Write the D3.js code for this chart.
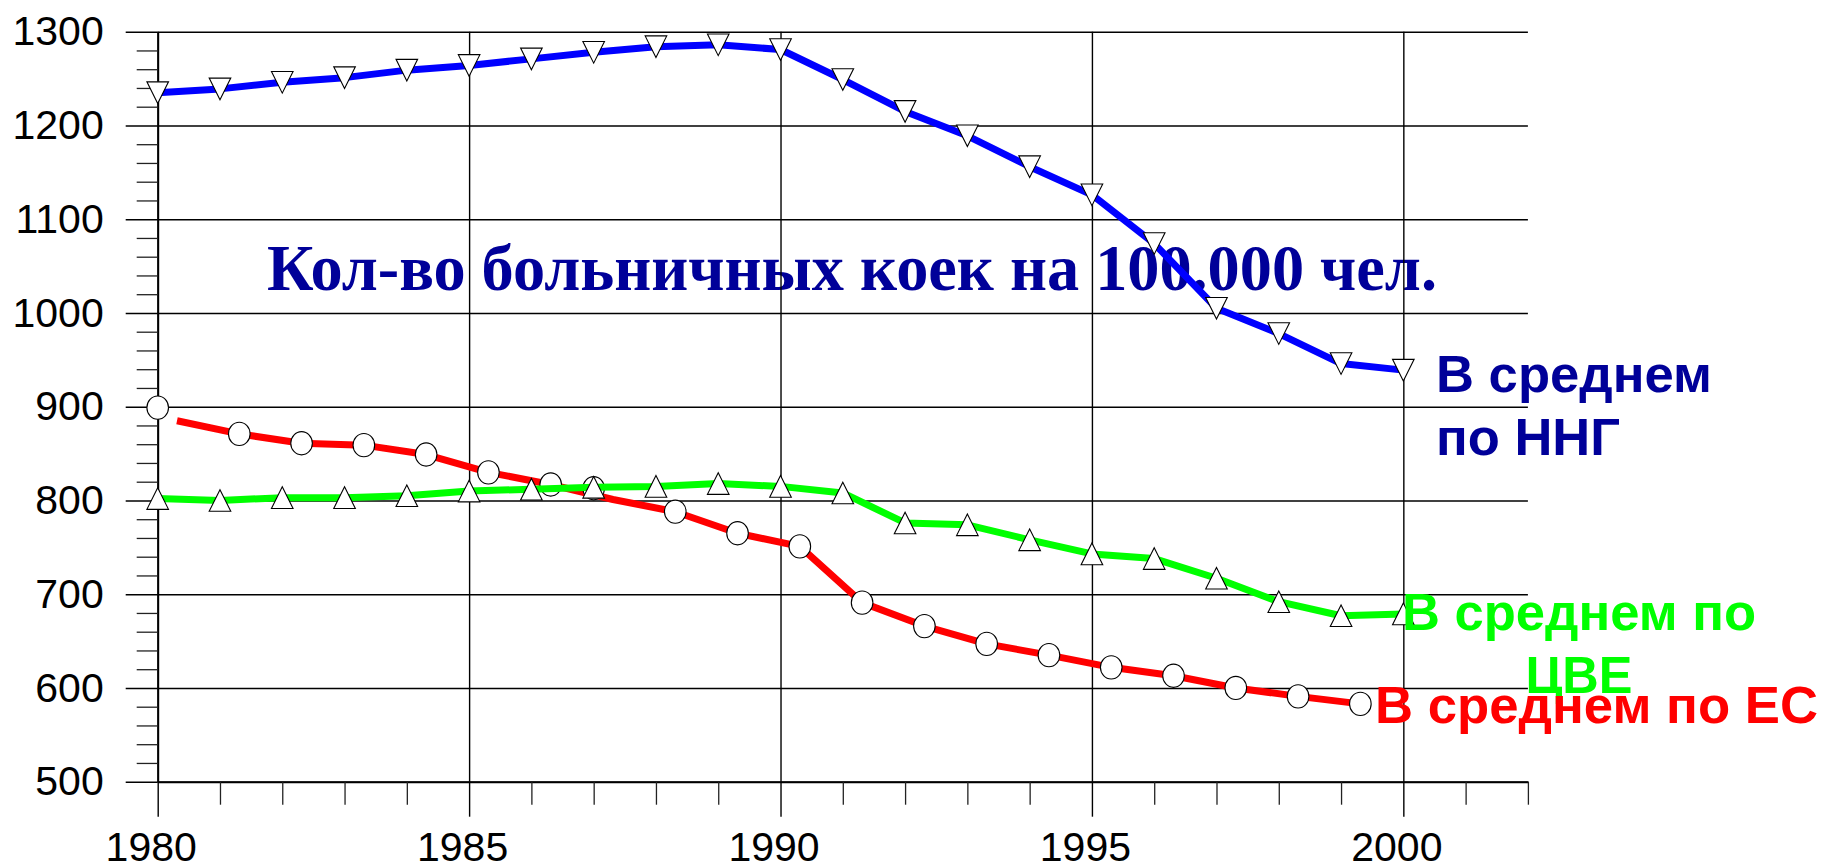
<!DOCTYPE html>
<html><head><meta charset="utf-8">
<script src="https://cdn.jsdelivr.net/npm/d3@7"></script>
<style>body{margin:0;background:#fff;} svg{display:block}</style>
</head><body>
<svg id="chart" width="1825" height="866"></svg>
<script>
// ---- data ----
const years = [1980,1981,1982,1983,1984,1985,1986,1987,1988,1989,1990,1991,1992,1993,1994,1995,1996,1997,1998,1999,2000];
const nngValues = [1235,1239,1246,1251,1259,1264,1271,1278,1284,1286,1281,1249,1215,1189,1156,1126,1074,1005,978,946,939];
const cveValues = [802,800,803,803,805,810,812,814,815,818,815,808,776,774,758,743,738,717,692,677,679];
const euLineYears = [1980.31,1981.31,1982.31,1983.31,1984.31,1985.31,1986.31,1987.31,1988.31,1989.31,1990.31,1991.31,1992.31,1993.31,1994.31,1995.31,1996.31,1997.31,1998.31,1999.31];
const euLineValues = [885,871,861,859,849,830,817,801,788,765,751,691,666,647,635,622,613,600,591,583];
const euMarkerYears = [1980,1981.31,1982.31,1983.31,1984.31,1985.31,1986.31,1987,1988.31,1989.31,1990.31,1991.31,1992.31,1993.31,1994.31,1995.31,1996.31,1997.31,1998.31,1999.31];
const euMarkerValues = [899,871,861,859,849,830,817,813,788,765,751,691,666,647,635,622,613,600,591,583];
const yMajorTicks = [500,600,700,800,900,1000,1100,1200,1300];
const yMinorTicks = [520,540,560,580,620,640,660,680,720,740,760,780,820,840,860,880,920,940,960,980,1020,1040,1060,1080,1120,1140,1160,1180,1220,1240,1260,1280];
const xMajorTicks = [1980,1985,1990,1995,2000];
const xMinorTicks = [1981,1982,1983,1984,1986,1987,1988,1989,1991,1992,1993,1994,1996,1997,1998,1999,2001,2002];
const title = "Кол-во больничных коек на 100.000 чел.";
const labelNNG = ["В среднем", "по ННГ"];
const labelCVE = ["В среднем по", "ЦВЕ"];
const labelEU = "В среднем по ЕС";

// ---- layout ----
const L = 157.7, R = 1527.9, T = 31.7, B = 781.7;
const svg = d3.select("#chart");
const x = d3.scaleLinear().domain([1980, 2002]).range([L, R]);
const y = d3.scaleLinear().domain([500, 1300]).range([B, T]);
const sans = "'Liberation Sans', Arial, sans-serif";

// title (under grid)
svg.append("text")
  .attr("x", 267).attr("y", 290)
  .attr("font-family", "'Liberation Serif', 'Times New Roman', serif")
  .attr("font-weight", "bold").attr("font-size", 65)
  .attr("textLength", 1170).attr("lengthAdjust", "spacingAndGlyphs")
  .attr("fill", "#000099")
  .text(title);

// horizontal grid
const gGrid = svg.append("g").attr("transform", `translate(${L},0)`)
  .call(d3.axisLeft(y).tickValues(yMajorTicks).tickSize(-(R - L)).tickFormat(""));
gGrid.select(".domain").remove();
gGrid.selectAll("line").attr("stroke", "#000").attr("stroke-width", 1.4);

// vertical grid
const gVGrid = svg.append("g").attr("transform", `translate(0,${B})`)
  .call(d3.axisBottom(x).tickValues(xMajorTicks).tickSize(-(B - T)).tickFormat(""));
gVGrid.select(".domain").remove();
gVGrid.selectAll("line").attr("stroke", "#000").attr("stroke-width", 1.4);

// y axis major ticks + labels
const gY = svg.append("g").attr("transform", `translate(${L},0)`)
  .call(d3.axisLeft(y).tickValues(yMajorTicks).tickSize(32).tickSizeOuter(0).tickPadding(22).tickFormat(d3.format("d")));
gY.select(".domain").attr("stroke", "#000").attr("stroke-width", 2);
gY.selectAll("line").attr("stroke", "#000").attr("stroke-width", 1.4);
gY.selectAll("text").attr("font-family", sans).attr("font-size", 41).attr("fill", "#000");

// y minor ticks
const gYm = svg.append("g").attr("transform", `translate(${L},0)`)
  .call(d3.axisLeft(y).tickValues(yMinorTicks).tickSize(21).tickFormat(""));
gYm.select(".domain").remove();
gYm.selectAll("line").attr("stroke", "#222").attr("stroke-width", 1.3);

// x axis major
const gX = svg.append("g").attr("transform", `translate(0,${B})`)
  .call(d3.axisBottom(x).tickValues(xMajorTicks).tickSize(35).tickSizeOuter(0).tickPadding(15).tickFormat(d3.format("d")));
gX.select(".domain").attr("stroke", "#000").attr("stroke-width", 2);
gX.selectAll("line").attr("stroke", "#000").attr("stroke-width", 1.4);
gX.selectAll("text").attr("font-family", sans).attr("font-size", 41).attr("fill", "#000").attr("dx", -7);

// x minor
const gXm = svg.append("g").attr("transform", `translate(0,${B})`)
  .call(d3.axisBottom(x).tickValues(xMinorTicks).tickSize(23).tickFormat(""));
gXm.select(".domain").remove();
gXm.selectAll("line").attr("stroke", "#222").attr("stroke-width", 1.3);

// ---- lines ----
const line = d3.line().x(d => x(d[0])).y(d => y(d[1]));
const nng = years.map((yr, i) => [yr, nngValues[i]]);
const cve = years.map((yr, i) => [yr, cveValues[i]]);
const euLine = euLineYears.map((yr, i) => [yr, euLineValues[i]]);
const euMarks = euMarkerYears.map((yr, i) => [yr, euMarkerValues[i]]);
const lw = 7;

svg.append("path").datum(nng).attr("d", line).attr("fill", "none")
  .attr("stroke", "#0000ff").attr("stroke-width", lw).attr("stroke-linejoin", "round");
svg.append("path").datum(euLine).attr("d", line).attr("fill", "none")
  .attr("stroke", "#ff0000").attr("stroke-width", lw).attr("stroke-linejoin", "round");

// markers
const hw = 10.8, hh = 10.8;
svg.append("g").selectAll("path").data(nng).join("path")
  .attr("d", d => { const cx = x(d[0]), cy = y(d[1]);
    return `M${cx-hw},${cy-hh}L${cx+hw},${cy-hh}L${cx},${cy+hh}Z`; })
  .attr("fill", "#fff").attr("stroke", "#000").attr("stroke-width", 1.1);

svg.append("g").selectAll("ellipse").data(euMarks).join("ellipse")
  .attr("cx", d => x(d[0])).attr("cy", d => y(d[1]))
  .attr("rx", 10.8).attr("ry", 11.6)
  .attr("fill", "#fff").attr("stroke", "#000").attr("stroke-width", 1.1);

svg.append("path").datum(cve).attr("d", line).attr("fill", "none")
  .attr("stroke", "#00ff00").attr("stroke-width", lw).attr("stroke-linejoin", "round");
svg.append("g").selectAll("path").data(cve).join("path")
  .attr("d", d => { const cx = x(d[0]), cy = y(d[1]);
    return `M${cx-hw},${cy+hh}L${cx+hw},${cy+hh}L${cx},${cy-hh}Z`; })
  .attr("fill", "#fff").attr("stroke", "#000").attr("stroke-width", 1.1);

// ---- series labels ----
const lab = svg.append("g").attr("font-family", sans).attr("font-weight", "bold").attr("font-size", 52)
  .attr("lengthAdjust", "spacingAndGlyphs");
function addLabel(txt, lx, ly, len, color, anchor) {
  lab.append("text").attr("x", lx).attr("y", ly).attr("fill", color)
    .attr("text-anchor", anchor || "start")
    .attr("textLength", len).attr("lengthAdjust", "spacingAndGlyphs")
    .text(txt);
}
addLabel(labelNNG[0], 1436, 392, 276, "#000099");
addLabel(labelNNG[1], 1436, 455, 184, "#000099");
addLabel(labelCVE[0], 1579, 630, 354, "#00ff00", "middle");
addLabel(labelCVE[1], 1579, 693, 107, "#00ff00", "middle");
addLabel(labelEU, 1375, 723, 443, "#ff0000");
</script>
</body></html>
